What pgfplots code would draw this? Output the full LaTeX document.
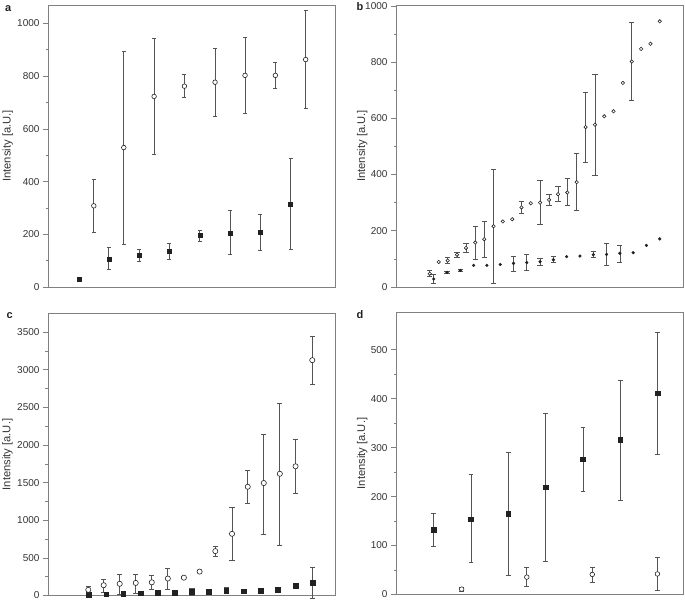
\documentclass[border=0pt]{standalone}
\usepackage{pgfplots}
\pgfplotsset{compat=1.18}
\usepackage{fontspec}
\setmainfont{Liberation Sans}
\definecolor{framec}{gray}{0.5}
\definecolor{txt}{gray}{0.2}
\definecolor{ebc}{gray}{0.33}
\definecolor{mk}{gray}{0.13}
\begin{document}
\begin{tikzpicture}
\path[use as bounding box] (0pt,0pt) rectangle (685pt,600pt);
\pgfplotsset{
 panel/.style={
  scale only axis, width=286.5pt, height=282pt, anchor=south west,
  axis line style={framec, line width=0.8pt},
  xtick=\empty, ytick pos=left, tick align=outside,
  major tick length=5.5pt, minor tick length=3pt,
  tick style={framec, line width=0.6pt},
  minor y tick num=1,
  tick label style={font=\fontsize{10}{12}\selectfont, text=txt},
  /pgf/number format/assume math mode=true,
  /pgf/number format/1000 sep={},
  ylabel={Intensity [a.U.]},
  ylabel style={font=\fontsize{11.2}{13}\selectfont, text=txt, anchor=center},
  ymin=0, clip=false,
 },
 circ/.style={only marks, mark=*, mark size=#1, mark options={fill=white, draw=mk, line width=0.6pt}},
 sq/.style={only marks, mark=square*, mark size=#1, mark options={fill=mk, draw=mk}},
 dot/.style={only marks, mark=*, mark size=#1, mark options={fill=mk, draw=mk}},
 ebar/.style={error bars/.cd, y dir=both, y explicit, error mark=-, error bar style={draw=ebc, line width=0.7pt}, error mark options={rotate=90, draw=ebc, line width=0.7pt, mark size=#1}},
}
% ---------------- a
\begin{axis}[panel, at={(48.5pt,313pt)}, xmin=145, xmax=1005, ymax=1070, ytick={0,200,...,1000},
  ylabel style={at={(axis description cs:-0.142,0.5)}}]
\addplot[sq=2pt] coordinates {(236,28)};
\addplot[sq=2pt, ebar=2pt] coordinates {
(326,106) += (0,45) -= (0,40)
(417,119) += (0,23) -= (0,23)
(508,135) += (0,30) -= (0,30)
(599,195) += (0,20) -= (0,23)
(690,205) += (0,84) -= (0,81)
(781,208) += (0,69) -= (0,70)
(872,314) += (0,173) -= (0,171)
};
\addplot[circ=2.3pt, ebar=2pt] coordinates {
(281,308) += (0,101) -= (0,102)
(371,529) += (0,367) -= (0,367)
(462,723) += (0,220) -= (0,220)
(553,762) += (0,44) -= (0,44)
(645,777) += (0,128) -= (0,128)
(735,803) += (0,146) -= (0,146)
(826,803) += (0,51) -= (0,50)
(917,863) += (0,188) -= (0,187)
};
\end{axis}
% ---------------- b
\begin{axis}[panel, at={(396.5pt,313pt)}, xmin=168, xmax=1030, ymax=1003, ytick={0,200,...,1000},
  ylabel style={at={(axis description cs:-0.12,0.5)}}]
\addplot[circ=1.7pt, ebar=2.6pt] coordinates {
(268,47.5) += (0,10) -= (0,10)
(322,94) += (0,11) -= (0,11)
(350,115) += (0,7) -= (0,8)
(377,139) += (0,15) -= (0,15)
(405,158) += (0,58) -= (0,58)
(432,170) += (0,63) -= (0,63)
(460,216) += (0,202) -= (0,202)
(544,283) += (0,21) -= (0,22)
(600,300) += (0,79) -= (0,78)
(627,310) += (0,20) -= (0,18)
(654,330) += (0,27) -= (0,26)
(682,336) += (0,49) -= (0,46)
(710,373) += (0,102) -= (0,102)
(737,569) += (0,125) -= (0,125)
(765,577) += (0,181) -= (0,180)
(876,802) += (0,140) -= (0,139)
};
\addplot[circ=1.7pt] coordinates {
(295,89) (488,233) (516,241) (572,298) (793,607) (821,625) (849,726) (904,847) (932,865) (960,945)
};
\addplot[dot=1.4pt, ebar=2.6pt] coordinates {
(280,28.5) += (0,16) -= (0,16)
(320,52) += (0,5) -= (0,5)
(360,59) += (0,4) -= (0,3)
(520,84) += (0,26) -= (0,28)
(560,87) += (0,28) -= (0,29)
(600,90) += (0,12) -= (0,12)
(640,97) += (0,11) -= (0,10)
(760,115) += (0,13) -= (0,10)
(800,116) += (0,38) -= (0,38)
(840,120) += (0,28) -= (0,32)
};
\addplot[dot=1.4pt] coordinates {
(400,77) (440,77) (480,80) (680,108) (720,110) (880,122) (920,148) (960,171)
};
\end{axis}
% ---------------- c
\begin{axis}[panel, at={(48.5pt,4.5pt)}, xmin=148, xmax=1005, ymax=3748, ytick={0,500,...,3500},
  ylabel style={at={(axis description cs:-0.143,0.5)}}]
\addplot[sq=2.3pt] coordinates {
(268,10) (320,18) (371,24) (423,30) (474,38) (525,40) (628,50) (731,58) (783,62) (834,80) (887,133)
};
\addplot[sq=2.3pt, ebar=2.6pt] coordinates {
(577,50) += (0,45) -= (0,45)
(680,62) += (0,40) -= (0,40)
(938,170) += (0,210) -= (0,210)
};
\addplot[circ=2.6pt, ebar=2.6pt] coordinates {
(267,75) += (0,53) -= (0,48)
(313,137) += (0,84) -= (0,97)
(361,155) += (0,128) -= (0,137)
(409,167) += (0,112) -= (0,132)
(457,175) += (0,91) -= (0,95)
(505,225) += (0,134) -= (0,145)
(553,237) += (0,12) -= (0,12)
(600,318) += (0,12) -= (0,12)
(647,590) += (0,69) -= (0,65)
(697,820) += (0,355) -= (0,348)
(744,1445) += (0,222) -= (0,222)
(792,1495) += (0,650) -= (0,680)
(840,1618) += (0,934) -= (0,946)
(887,1717) += (0,352) -= (0,357)
(937,3128) += (0,319) -= (0,323)
};
\end{axis}
% ---------------- d
\begin{axis}[panel, at={(396.5pt,5.5pt)}, xmin=168, xmax=1030, ymax=576, ytick={0,100,...,500},
  ylabel style={at={(axis description cs:-0.12,0.5)}}]
\addplot[sq=2.3pt, ebar=2.4pt] coordinates {
(280,132) += (0,33) -= (0,34)
(392,154) += (0,91) -= (0,88)
(504,165) += (0,125) -= (0,126)
(616,219) += (0,151) -= (0,151)
(729,276) += (0,66) -= (0,66)
(841,316) += (0,122) -= (0,123)
(953,411) += (0,125) -= (0,125)
};
\addplot[circ=2.3pt, ebar=2.4pt] coordinates {
(364,11) += (0,4) -= (0,4)
(560,35.5) += (0,19.5) -= (0,19.5)
(757,41) += (0,15) -= (0,16)
(953,42) += (0,34) -= (0,34)
};
\end{axis}
\node[anchor=base west, font=\bfseries\fontsize{11}{12}\selectfont, text=mk] at (1.5pt,588.5pt) {a};
\node[anchor=base west, font=\bfseries\fontsize{11}{12}\selectfont, text=mk] at (353pt,589.5pt) {b};
\node[anchor=base west, font=\bfseries\fontsize{11}{12}\selectfont, text=mk] at (3pt,281.5pt) {c};
\node[anchor=base west, font=\bfseries\fontsize{11}{12}\selectfont, text=mk] at (353pt,281.5pt) {d};
\end{tikzpicture}
\end{document}
